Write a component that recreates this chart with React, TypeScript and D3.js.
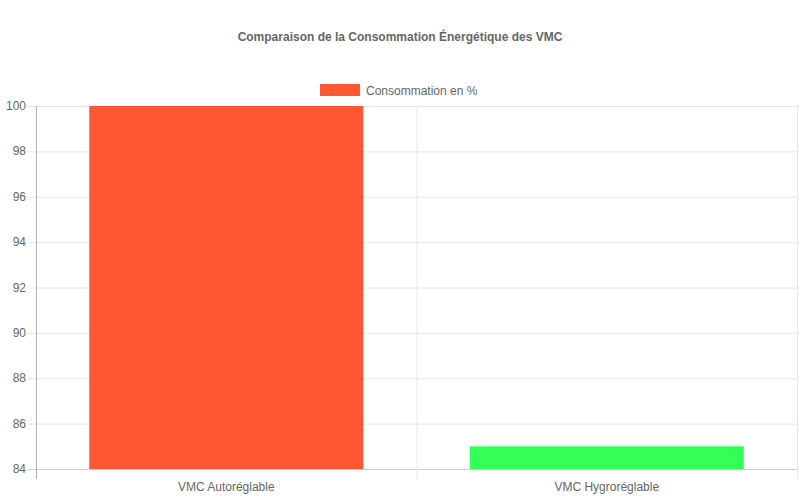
import React from "react";
import * as d3 from "d3";

const categories = ["VMC Autoréglable", "VMC Hygroréglable"];
const values = [100, 85];
const colors = ["#FF5733", "#33FF57"];
const yTicks = [84, 86, 88, 90, 92, 94, 96, 98, 100];
const title = "Comparaison de la Consommation Énergétique des VMC";
const legendLabel = "Consommation en %";

const W = 800;
const H = 500;
const left = 36;
const right = 797;
const top = 106;
const bottom = 469;
const font = "'Liberation Sans', Arial, Helvetica, sans-serif";

export default function App() {
  const x = d3.scaleBand<string>().domain(categories).range([left, right]).paddingInner(0).paddingOuter(0);
  const y = d3.scaleLinear().domain([84, 100]).range([bottom, top]);
  const bw = x.bandwidth() * 0.72;
  const grid = "#e6e6e6";
  const vLines = [left, ...categories.map((c) => (x(c) as number) + x.bandwidth())];
  return (
    <div style={{ position: "fixed", left: 0, top: 0 }}>
      <svg width={W} height={H} style={{ display: "block", background: "#fff" }}>
        <text x={W / 2} y={41} textAnchor="middle" fontFamily={font} fontSize={12} fontWeight="bold" fill="#666">
          {title}
        </text>
        <rect x={320} y={84} width={40} height={12} fill={colors[0]} />
        <text x={366} y={94.5} fontFamily={font} fontSize={12} fill="#666">
          {legendLabel}
        </text>
        {yTicks.map((t) => (
          <g key={t}>
            <line x1={left - 8} x2={right} y1={y(t) + 0.5} y2={y(t) + 0.5} stroke={t === 84 ? "#d0d0d0" : grid} />
            <text x={left - 10} y={y(t) + 4} textAnchor="end" fontFamily={font} fontSize={12} fill="#666">
              {t}
            </text>
          </g>
        ))}
        {vLines.map((vx, i) => (
          <line
            key={i}
            x1={vx + 0.5}
            x2={vx + 0.5}
            y1={top}
            y2={bottom + 10}
            stroke={i === 0 ? "#b0b0b0" : grid}
          />
        ))}
        {categories.map((c, i) => {
          const cx = (x(c) as number) + x.bandwidth() / 2;
          return (
            <g key={c}>
              <rect x={cx - bw / 2} y={y(values[i])} width={bw} height={bottom - y(values[i])} fill={colors[i]} />
              <text x={cx} y={491} textAnchor="middle" fontFamily={font} fontSize={12} fill="#666">
                {c}
              </text>
            </g>
          );
        })}
      </svg>
    </div>
  );
}
